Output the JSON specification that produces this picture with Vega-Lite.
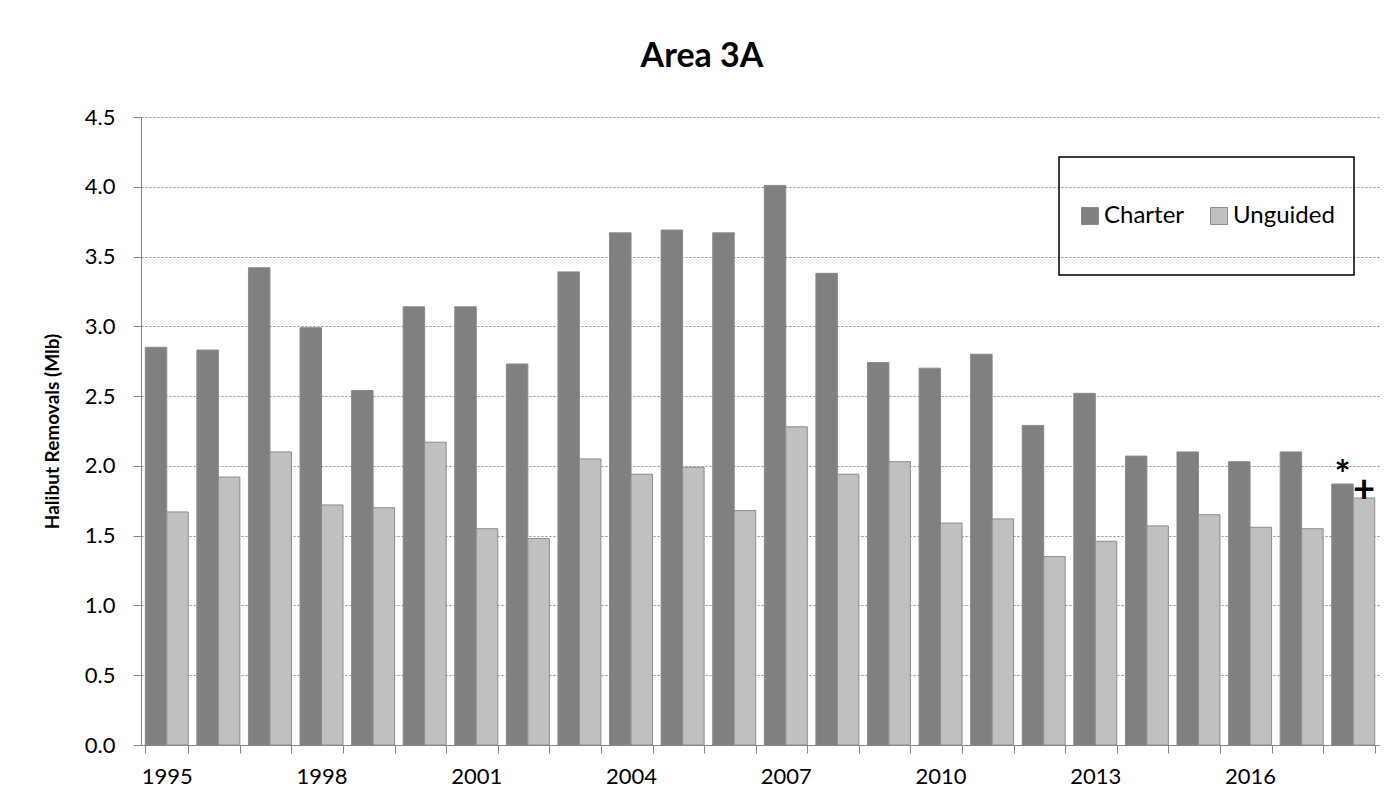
{
  "$schema": "https://vega.github.io/schema/vega-lite/v6.json",
  "autosize": "none",
  "width": 1238,
  "height": 628,
  "padding": {"left": 141, "top": 117, "right": 21, "bottom": 62},
  "background": "white",
  "title": {
    "text": "Area 3A",
    "fontSize": 34,
    "font": "Lato",
    "fontWeight": "bold",
    "color": "black",
    "anchor": "middle",
    "dx": -58,
    "offset": 32
  },
  "config": {
    "view": {"stroke": null},
    "font": "Lato",
    "legend": {"strokeWidth": 1.5}
  },
  "data": {
    "values": [
      {"Year": "1995", "Type": "Charter", "Value": 2.85},
      {"Year": "1995", "Type": "Unguided", "Value": 1.67},
      {"Year": "1996", "Type": "Charter", "Value": 2.83},
      {"Year": "1996", "Type": "Unguided", "Value": 1.92},
      {"Year": "1997", "Type": "Charter", "Value": 3.42},
      {"Year": "1997", "Type": "Unguided", "Value": 2.10},
      {"Year": "1998", "Type": "Charter", "Value": 2.99},
      {"Year": "1998", "Type": "Unguided", "Value": 1.72},
      {"Year": "1999", "Type": "Charter", "Value": 2.54},
      {"Year": "1999", "Type": "Unguided", "Value": 1.70},
      {"Year": "2000", "Type": "Charter", "Value": 3.14},
      {"Year": "2000", "Type": "Unguided", "Value": 2.17},
      {"Year": "2001", "Type": "Charter", "Value": 3.14},
      {"Year": "2001", "Type": "Unguided", "Value": 1.55},
      {"Year": "2002", "Type": "Charter", "Value": 2.73},
      {"Year": "2002", "Type": "Unguided", "Value": 1.48},
      {"Year": "2003", "Type": "Charter", "Value": 3.39},
      {"Year": "2003", "Type": "Unguided", "Value": 2.05},
      {"Year": "2004", "Type": "Charter", "Value": 3.67},
      {"Year": "2004", "Type": "Unguided", "Value": 1.94},
      {"Year": "2005", "Type": "Charter", "Value": 3.69},
      {"Year": "2005", "Type": "Unguided", "Value": 1.99},
      {"Year": "2006", "Type": "Charter", "Value": 3.67},
      {"Year": "2006", "Type": "Unguided", "Value": 1.68},
      {"Year": "2007", "Type": "Charter", "Value": 4.01},
      {"Year": "2007", "Type": "Unguided", "Value": 2.28},
      {"Year": "2008", "Type": "Charter", "Value": 3.38},
      {"Year": "2008", "Type": "Unguided", "Value": 1.94},
      {"Year": "2009", "Type": "Charter", "Value": 2.74},
      {"Year": "2009", "Type": "Unguided", "Value": 2.03},
      {"Year": "2010", "Type": "Charter", "Value": 2.70},
      {"Year": "2010", "Type": "Unguided", "Value": 1.59},
      {"Year": "2011", "Type": "Charter", "Value": 2.80},
      {"Year": "2011", "Type": "Unguided", "Value": 1.62},
      {"Year": "2012", "Type": "Charter", "Value": 2.29},
      {"Year": "2012", "Type": "Unguided", "Value": 1.35},
      {"Year": "2013", "Type": "Charter", "Value": 2.52},
      {"Year": "2013", "Type": "Unguided", "Value": 1.46},
      {"Year": "2014", "Type": "Charter", "Value": 2.07},
      {"Year": "2014", "Type": "Unguided", "Value": 1.57},
      {"Year": "2015", "Type": "Charter", "Value": 2.10},
      {"Year": "2015", "Type": "Unguided", "Value": 1.65},
      {"Year": "2016", "Type": "Charter", "Value": 2.03},
      {"Year": "2016", "Type": "Unguided", "Value": 1.56},
      {"Year": "2017", "Type": "Charter", "Value": 2.10},
      {"Year": "2017", "Type": "Unguided", "Value": 1.55},
      {"Year": "2018", "Type": "Charter", "Value": 1.87, "Note": "*"},
      {"Year": "2018", "Type": "Unguided", "Value": 1.77, "Note": "+"}
    ]
  },
  "encoding": {
    "x": {
      "field": "Year",
      "type": "nominal",
      "sort": null,
      "scale": {"paddingInner": 0.167, "paddingOuter": 0.083},
      "axis": {
        "title": null,
        "labelAngle": 0,
        "labelPadding": 13,
        "labelFont": "Lato",
        "labelFontSize": 22,
        "labelColor": "black",
        "domainColor": "#868686",
        "tickColor": "#868686",
        "tickSize": 8,
        "tickBand": "extent",
        "labelExpr": "(toNumber(datum.value) - 1995) % 3 == 0 ? datum.value : ''"
      }
    },
    "xOffset": {"field": "Type", "type": "nominal", "sort": ["Charter", "Unguided"]},
    "y": {
      "field": "Value",
      "type": "quantitative",
      "scale": {"domain": [0, 4.5]},
      "axis": {
        "title": "Halibut Removals (Mlb)",
        "titleFont": "Lato",
        "titleFontSize": 19,
        "titleFontWeight": "bold",
        "titleColor": "black",
        "titlePadding": 22,
        "values": [0, 0.5, 1, 1.5, 2, 2.5, 3, 3.5, 4, 4.5],
        "format": ".1f",
        "labelFont": "Lato",
        "labelFontSize": 22,
        "labelColor": "black",
        "labelPadding": 18,
        "domainColor": "#868686",
        "tickColor": "#868686",
        "tickSize": 8,
        "grid": true,
        "gridColor": "#8c8c8c",
        "gridDash": [2, 2],
        "gridWidth": 1
      }
    }
  },
  "layer": [
    {
      "mark": {"type": "bar", "strokeWidth": 1},
      "encoding": {
        "color": {
          "field": "Type",
          "type": "nominal",
          "scale": {"domain": ["Charter", "Unguided"], "range": ["#808080", "#C0C0C0"]},
          "legend": {
            "title": null,
            "orient": "none",
            "legendX": 918,
            "legendY": 40,
            "direction": "horizontal",
            "strokeColor": "black",
            "padding": 19,
            "clipHeight": 80,
            "symbolType": "square",
            "symbolSize": 289,
            "symbolStrokeColor": "#8c8c8c",
            "symbolStrokeWidth": 1,
            "labelFontSize": 24,
            "labelFont": "Lato",
            "labelColor": "black",
            "labelOffset": 2,
            "columnPadding": 22
          }
        },
        "stroke": {
          "field": "Type",
          "type": "nominal",
          "scale": {"domain": ["Charter", "Unguided"], "range": ["#8a8a8a", "#8c8c8c"]},
          "legend": null
        }
      }
    },
    {
      "transform": [{"filter": "isValid(datum.Note)"}],
      "mark": {"type": "text", "fontSize": 38, "fontWeight": "bold", "baseline": "bottom", "dy": 12, "color": "black"},
      "encoding": {
        "text": {"field": "Note", "type": "nominal"}
      }
    }
  ]
}
